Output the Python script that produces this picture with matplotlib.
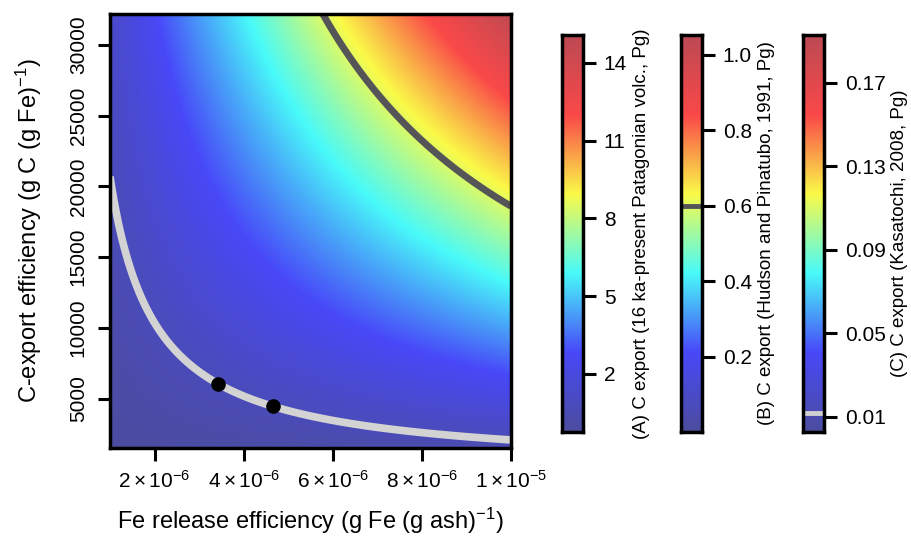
import numpy as np
import matplotlib
matplotlib.use("Agg")
import matplotlib.pyplot as plt
from matplotlib.colors import LinearSegmentedColormap, Normalize

plt.rcParams['font.family'] = ['Liberation Sans', 'DejaVu Sans']
plt.rcParams['mathtext.fontset'] = 'custom'
plt.rcParams['mathtext.rm'] = 'Liberation Sans'
plt.rcParams['mathtext.it'] = 'Liberation Sans:italic'
plt.rcParams['mathtext.bf'] = 'Liberation Sans:bold'

# axis ranges
fe_range = [1.0e-6, 1.0e-5]        # g Fe (g ash)^-1
ceff_range = [1500, 32200]         # g C (g Fe)^-1

x_ticks = [2e-6, 4e-6, 6e-6, 8e-6, 1e-5]
x_ticklabels = [r'$2\times10^{-6}$', r'$4\times10^{-6}$', r'$6\times10^{-6}$',
                r'$8\times10^{-6}$', r'$1\times10^{-5}$']
y_ticks = [5000, 10000, 15000, 20000, 25000, 30000]

# iso-lines of Fe release x C-export efficiency (g C per g ash)
level_kasatochi = 0.0207
level_pinatubo = 0.186

# Kasatochi estimates (black dots)
pts_fe = [3.42e-6, 4.65e-6]
pts_ceff = [6000, 4490]

# colour scale top (g C per g ash)
gc_per_ash_max = 0.3264

# colourbars: label, range, ticks
cbar_labels = ['(A) C export (16 ka-present Patagonian volc., Pg)',
               '(B) C export (Hudson and Pinatubo, 1991, Pg)',
               '(C) C export (Kasatochi, 2008, Pg)']
cbar_ranges = [[-0.24, 15.07], [0.0, 1.053], [0.0027, 0.193]]
cbar_ticks = [[2, 5, 8, 11, 14],
              [0.2, 0.4, 0.6, 0.8, 1.0],
              [0.01, 0.05, 0.09, 0.13, 0.17]]
cbar_ticklabels = [['2', '5', '8', '11', '14'],
                   ['0.2', '0.4', '0.6', '0.8', '1.0'],
                   ['0.01', '0.05', '0.09', '0.13', '0.17']]
cbar_marks = [None, (0.6, '#555558'), (0.012, '#d0d0d0')]

cmap = LinearSegmentedColormap.from_list(
    'rampA', ['#4c4d9e', '#4848f8', '#48fafa', '#fafa48', '#fa4848', '#bc4a54'])

fig = plt.figure(figsize=(9.12, 5.36), dpi=100)
ax = fig.add_axes([0.1206, 0.1642, 0.4397, 0.8097])

fe = np.linspace(fe_range[0], fe_range[1], 400)
ce = np.linspace(ceff_range[0], ceff_range[1], 400)
FE, CE = np.meshgrid(fe, ce)
Z = FE * CE
norm = Normalize(vmin=0, vmax=gc_per_ash_max)
ax.imshow(Z, origin='lower', aspect='auto', cmap=cmap, norm=norm,
          extent=[fe_range[0], fe_range[1], ceff_range[0], ceff_range[1]],
          interpolation='bilinear')
ax.contour(FE, CE, Z, levels=[level_kasatochi], colors=['#d3d3d3'], linewidths=5.5)
ax.contour(FE, CE, Z, levels=[level_pinatubo], colors=['#555558'], linewidths=5)
ax.plot(pts_fe, pts_ceff, 'o', color='black', markersize=9.5, zorder=5)

ax.set_xlim(fe_range)
ax.set_ylim(ceff_range)
ax.set_xticks(x_ticks)
ax.set_xticklabels(x_ticklabels)
ax.set_yticks(y_ticks)
ax.set_yticklabels([str(v) for v in y_ticks], rotation=90, va='center')
ax.tick_params(direction='out', length=9, width=2.2, labelsize=15, pad=7)
for s in ax.spines.values():
    s.set_linewidth(2.5)
ax.set_xlabel(r'Fe release efficiency (g Fe (g ash)$^{-1}$)', fontsize=17, labelpad=10)
ax.set_ylabel(r'C-export efficiency (g C (g Fe)$^{-1}$)', fontsize=17, labelpad=18)

cbar_left = [562, 681, 803]
grad = np.linspace(0, 1, 256).reshape(-1, 1)
for left, label, rng, ticks, tlabels, mark in zip(cbar_left, cbar_labels, cbar_ranges,
                                                   cbar_ticks, cbar_ticklabels, cbar_marks):
    cax = fig.add_axes([left / 912, 1 - 432 / 536, 21 / 912, 397 / 536])
    cax.imshow(grad, origin='lower', aspect='auto', cmap=cmap,
               extent=[0, 1, rng[0], rng[1]])
    if mark is not None:
        cax.axhline(mark[0], color=mark[1], linewidth=3.5)
    cax.set_xlim(0, 1)
    cax.set_ylim(rng)
    cax.set_xticks([])
    cax.yaxis.tick_right()
    cax.set_yticks(ticks)
    cax.set_yticklabels(tlabels)
    cax.tick_params(direction='out', length=9, width=2.2, labelsize=15, pad=6)
    for s in cax.spines.values():
        s.set_linewidth(2.5)
    cax.yaxis.set_label_position('right')
    cax.set_ylabel(label, fontsize=13.5, labelpad=4)

fig.savefig('out.png', dpi=100)
